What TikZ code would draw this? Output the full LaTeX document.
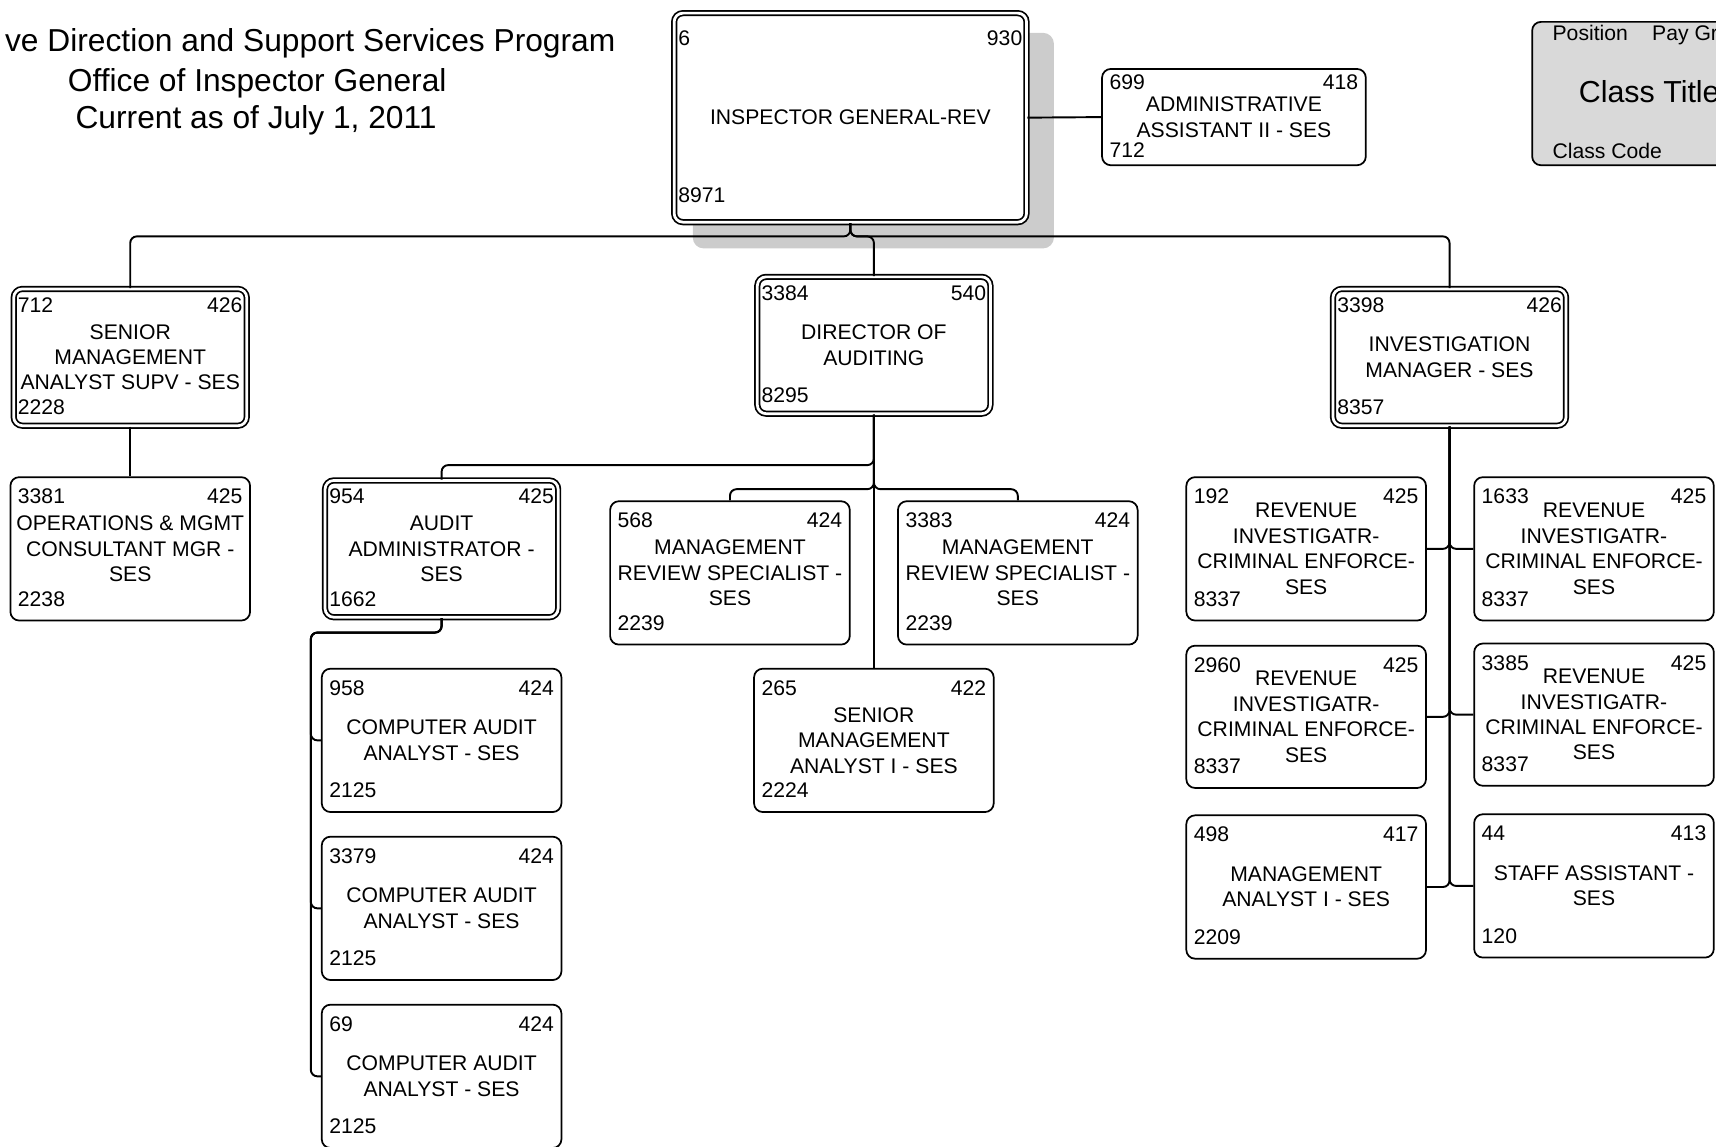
\documentclass[tikz,border=0pt]{standalone}
\usepackage{fontspec}
\setmainfont{Liberation Sans}
\usepackage{tikz}
\newcommand{\orgfont}{\fontsize{5.5}{6.6}\selectfont}
\newcommand{\bannerfont}{\fontsize{8.25}{9.9}\selectfont}
\newcommand{\legendtitlefont}{\fontsize{7.9}{9.5}\selectfont}

\begin{document}
\begin{tikzpicture}[
    unit/.style={draw, fill=white, line width=0.45pt, rounded corners=0.08cm,
      minimum width=2.19cm, minimum height=1.31cm, inner sep=0pt,
      align=center, font=\orgfont},
    head/.style={unit, double, double distance=0.025cm,
      minimum width=2.13cm, minimum height=1.25cm},
    num/.style={inner sep=0pt, font=\orgfont},
    link/.style={line width=0.5pt, rounded corners=0.06cm}]
                        \useasboundingbox (0,0) rectangle (15.68,-10.48);

                        % Drawing title
                        \node[num, anchor=base east, font=\bannerfont] (title-a) at (5.63,-0.474) {ve Direction and Support Services Program};
                        \node[num, anchor=base, font=\bannerfont] (title-b) at (2.35,-0.834) {Office of Inspector General};
                        \node[num, anchor=base, font=\bannerfont] (title-c) at (2.34,-1.174) {Current as of July 1, 2011};

                        % Drawing legend
                        \node[draw, fill=black!15, line width=0.45pt, rounded corners=0.08cm, minimum width=2.2cm, minimum height=1.31cm] (legend) at (15.10,-0.855) {};
                        \node[num, anchor=base west] (legend-pos) at (14.18,-0.37) {Position};
                        \node[num, anchor=base west] (legend-pay) at (15.09,-0.37) {Pay Gr};
                        \node[num, anchor=base west, font=\legendtitlefont] (legend-title) at (14.42,-0.94) {Class Title};
                        \node[num, anchor=base west] (legend-code) at (14.18,-1.45) {Class Code};

                        % Drawing shadow of box ig
                        \fill[black!20, rounded corners=0.1cm] (6.33,-0.30) rectangle (9.63,-2.27);

                        % Drawing box ig
                        \node[head, minimum width=3.22cm, minimum height=1.91cm] (ig) at (7.77,-1.075) {INSPECTOR GENERAL-REV};
                        \node[num, anchor=base west] (ig-pos) at ([shift={(0.04,-0.30)}]ig.north west) {6};
                        \node[num, anchor=base east] (ig-grade) at ([shift={(-0.04,-0.30)}]ig.north east) {930};
                        \node[num, anchor=base west] (ig-code) at ([shift={(0.04,0.19)}]ig.south west) {8971};

                        % Drawing box adm
                        \node[unit, minimum width=2.41cm, minimum height=0.88cm] (adm) at (11.275,-1.07) {ADMINISTRATIVE\\ASSISTANT II - SES};
                        \node[num, anchor=base west] (adm-pos) at ([shift={(0.07,-0.20)}]adm.north west) {699};
                        \node[num, anchor=base east] (adm-grade) at ([shift={(-0.07,-0.20)}]adm.north east) {418};
                        \node[num, anchor=base west] (adm-code) at ([shift={(0.07,0.08)}]adm.south west) {712};

                        % Drawing box smas
                        \node[head] (smas) at (1.19,-3.265) {SENIOR\\MANAGEMENT\\ANALYST SUPV - SES};
                        \node[num, anchor=base west] (smas-pos) at ([shift={(0.04,-0.22)}]smas.north west) {712};
                        \node[num, anchor=base east] (smas-grade) at ([shift={(-0.04,-0.22)}]smas.north east) {426};
                        \node[num, anchor=base west] (smas-code) at ([shift={(0.04,0.11)}]smas.south west) {2228};

                        % Drawing box dir
                        \node[head] (dir) at (7.985,-3.155) {DIRECTOR OF\\AUDITING};
                        \node[num, anchor=base west] (dir-pos) at ([shift={(0.04,-0.22)}]dir.north west) {3384};
                        \node[num, anchor=base east] (dir-grade) at ([shift={(-0.04,-0.22)}]dir.north east) {540};
                        \node[num, anchor=base west] (dir-code) at ([shift={(0.04,0.11)}]dir.south west) {8295};

                        % Drawing box inv
                        \node[head] (inv) at (13.245,-3.265) {INVESTIGATION\\MANAGER - SES};
                        \node[num, anchor=base west] (inv-pos) at ([shift={(0.04,-0.22)}]inv.north west) {3398};
                        \node[num, anchor=base east] (inv-grade) at ([shift={(-0.04,-0.22)}]inv.north east) {426};
                        \node[num, anchor=base west] (inv-code) at ([shift={(0.04,0.11)}]inv.south west) {8357};

                        % Drawing box ops
                        \node[unit] (ops) at (1.19,-5.015) {OPERATIONS \& MGMT\\CONSULTANT MGR -\\SES};
                        \node[num, anchor=base west] (ops-pos) at ([shift={(0.07,-0.25)}]ops.north west) {3381};
                        \node[num, anchor=base east] (ops-grade) at ([shift={(-0.07,-0.25)}]ops.north east) {425};
                        \node[num, anchor=base west] (ops-code) at ([shift={(0.07,0.14)}]ops.south west) {2238};

                        % Drawing box aud
                        \node[head] (aud) at (4.035,-5.015) {AUDIT\\ADMINISTRATOR -\\SES};
                        \node[num, anchor=base west] (aud-pos) at ([shift={(0.04,-0.22)}]aud.north west) {954};
                        \node[num, anchor=base east] (aud-grade) at ([shift={(-0.04,-0.22)}]aud.north east) {425};
                        \node[num, anchor=base west] (aud-code) at ([shift={(0.04,0.11)}]aud.south west) {1662};

                        % Drawing box mrsa
                        \node[unit] (mrsa) at (6.67,-5.235) {MANAGEMENT\\REVIEW SPECIALIST -\\SES};
                        \node[num, anchor=base west] (mrsa-pos) at ([shift={(0.07,-0.25)}]mrsa.north west) {568};
                        \node[num, anchor=base east] (mrsa-grade) at ([shift={(-0.07,-0.25)}]mrsa.north east) {424};
                        \node[num, anchor=base west] (mrsa-code) at ([shift={(0.07,0.14)}]mrsa.south west) {2239};

                        % Drawing box mrsb
                        \node[unit] (mrsb) at (9.30,-5.235) {MANAGEMENT\\REVIEW SPECIALIST -\\SES};
                        \node[num, anchor=base west] (mrsb-pos) at ([shift={(0.07,-0.25)}]mrsb.north west) {3383};
                        \node[num, anchor=base east] (mrsb-grade) at ([shift={(-0.07,-0.25)}]mrsb.north east) {424};
                        \node[num, anchor=base west] (mrsb-code) at ([shift={(0.07,0.14)}]mrsb.south west) {2239};

                        % Drawing box smai
                        \node[unit] (smai) at (7.985,-6.765) {SENIOR\\MANAGEMENT\\ANALYST I - SES};
                        \node[num, anchor=base west] (smai-pos) at ([shift={(0.07,-0.25)}]smai.north west) {265};
                        \node[num, anchor=base east] (smai-grade) at ([shift={(-0.07,-0.25)}]smai.north east) {422};
                        \node[num, anchor=base west] (smai-code) at ([shift={(0.07,0.14)}]smai.south west) {2224};

                        % Drawing box caaa
                        \node[unit] (caaa) at (4.035,-6.765) {COMPUTER AUDIT\\ANALYST - SES};
                        \node[num, anchor=base west] (caaa-pos) at ([shift={(0.07,-0.25)}]caaa.north west) {958};
                        \node[num, anchor=base east] (caaa-grade) at ([shift={(-0.07,-0.25)}]caaa.north east) {424};
                        \node[num, anchor=base west] (caaa-code) at ([shift={(0.07,0.14)}]caaa.south west) {2125};

                        % Drawing box caab
                        \node[unit] (caab) at (4.035,-8.30) {COMPUTER AUDIT\\ANALYST - SES};
                        \node[num, anchor=base west] (caab-pos) at ([shift={(0.07,-0.25)}]caab.north west) {3379};
                        \node[num, anchor=base east] (caab-grade) at ([shift={(-0.07,-0.25)}]caab.north east) {424};
                        \node[num, anchor=base west] (caab-code) at ([shift={(0.07,0.14)}]caab.south west) {2125};

                        % Drawing box caac
                        \node[unit] (caac) at (4.035,-9.835) {COMPUTER AUDIT\\ANALYST - SES};
                        \node[num, anchor=base west] (caac-pos) at ([shift={(0.07,-0.25)}]caac.north west) {69};
                        \node[num, anchor=base east] (caac-grade) at ([shift={(-0.07,-0.25)}]caac.north east) {424};
                        \node[num, anchor=base west] (caac-code) at ([shift={(0.07,0.14)}]caac.south west) {2125};

                        % Drawing box ria
                        \node[unit] (ria) at (11.935,-5.015) {REVENUE\\INVESTIGATR-\\CRIMINAL ENFORCE-\\SES};
                        \node[num, anchor=base west] (ria-pos) at ([shift={(0.07,-0.25)}]ria.north west) {192};
                        \node[num, anchor=base east] (ria-grade) at ([shift={(-0.07,-0.25)}]ria.north east) {425};
                        \node[num, anchor=base west] (ria-code) at ([shift={(0.07,0.14)}]ria.south west) {8337};

                        % Drawing box rib
                        \node[unit] (rib) at (14.565,-5.015) {REVENUE\\INVESTIGATR-\\CRIMINAL ENFORCE-\\SES};
                        \node[num, anchor=base west] (rib-pos) at ([shift={(0.07,-0.25)}]rib.north west) {1633};
                        \node[num, anchor=base east] (rib-grade) at ([shift={(-0.07,-0.25)}]rib.north east) {425};
                        \node[num, anchor=base west] (rib-code) at ([shift={(0.07,0.14)}]rib.south west) {8337};

                        % Drawing box ric
                        \node[unit, minimum height=1.30cm] (ric) at (11.935,-6.55) {REVENUE\\INVESTIGATR-\\CRIMINAL ENFORCE-\\SES};
                        \node[num, anchor=base west] (ric-pos) at ([shift={(0.07,-0.25)}]ric.north west) {2960};
                        \node[num, anchor=base east] (ric-grade) at ([shift={(-0.07,-0.25)}]ric.north east) {425};
                        \node[num, anchor=base west] (ric-code) at ([shift={(0.07,0.14)}]ric.south west) {8337};

                        % Drawing box rid
                        \node[unit, minimum height=1.30cm] (rid) at (14.565,-6.53) {REVENUE\\INVESTIGATR-\\CRIMINAL ENFORCE-\\SES};
                        \node[num, anchor=base west] (rid-pos) at ([shift={(0.07,-0.25)}]rid.north west) {3385};
                        \node[num, anchor=base east] (rid-grade) at ([shift={(-0.07,-0.25)}]rid.north east) {425};
                        \node[num, anchor=base west] (rid-code) at ([shift={(0.07,0.14)}]rid.south west) {8337};

                        % Drawing box mai
                        \node[unit] (mai) at (11.935,-8.105) {MANAGEMENT\\ANALYST I - SES};
                        \node[num, anchor=base west] (mai-pos) at ([shift={(0.07,-0.25)}]mai.north west) {498};
                        \node[num, anchor=base east] (mai-grade) at ([shift={(-0.07,-0.25)}]mai.north east) {417};
                        \node[num, anchor=base west] (mai-code) at ([shift={(0.07,0.14)}]mai.south west) {2209};

                        % Drawing box sta
                        \node[unit] (sta) at (14.565,-8.095) {STAFF ASSISTANT -\\SES};
                        \node[num, anchor=base west] (sta-pos) at ([shift={(0.07,-0.25)}]sta.north west) {44};
                        \node[num, anchor=base east] (sta-grade) at ([shift={(-0.07,-0.25)}]sta.north east) {413};
                        \node[num, anchor=base west] (sta-code) at ([shift={(0.07,0.14)}]sta.south west) {120};

                        % Drawing connectors below ig
                        \coordinate (bus) at (7.77,-2.16);
                        \draw[link] (ig.south) -- (bus) -| (smas.north);
                        \draw[link] (ig.south) -- (bus) -| (dir.north);
                        \draw[link] (ig.south) -- (bus) -| (inv.north);
                        \draw[link] (ig.east) -- (adm.west);
                        \draw[link] (smas.south) -- (ops.north);

                        % Drawing connectors below dir
                        \coordinate (audbus) at (7.985,-4.25);
                        \coordinate (revbus) at (7.985,-4.47);
                        \draw[link] (dir.south) -- (audbus) -| (aud.north);
                        \draw[link] (dir.south) -- (revbus) -| (mrsa.north);
                        \draw[link] (dir.south) -- (revbus) -| (mrsb.north);
                        \draw[link] (dir.south) -- (smai.north);

                        % Drawing connectors below aud
                        \coordinate (caabus) at (4.035,-5.78);
                        \coordinate (caaleft) at (2.84,-5.78);
                        \draw[link] (aud.south) -- (caabus) -- (caaleft) |- (caaa.west);
                        \draw[link] (aud.south) -- (caabus) -- (caaleft) |- (caab.west);
                        \draw[link] (aud.south) -- (caabus) -- (caaleft) |- (caac.west);

                        % Drawing connectors below inv
                        \draw[link] (inv.south) |- (ria.east);
                        \draw[link] (inv.south) |- (rib.west);
                        \draw[link] (inv.south) |- (ric.east);
                        \draw[link] (inv.south) |- (rid.west);
                        \draw[link] (inv.south) |- (mai.east);
                        \draw[link] (inv.south) |- (sta.west);
                    \end{tikzpicture}
\end{document}
